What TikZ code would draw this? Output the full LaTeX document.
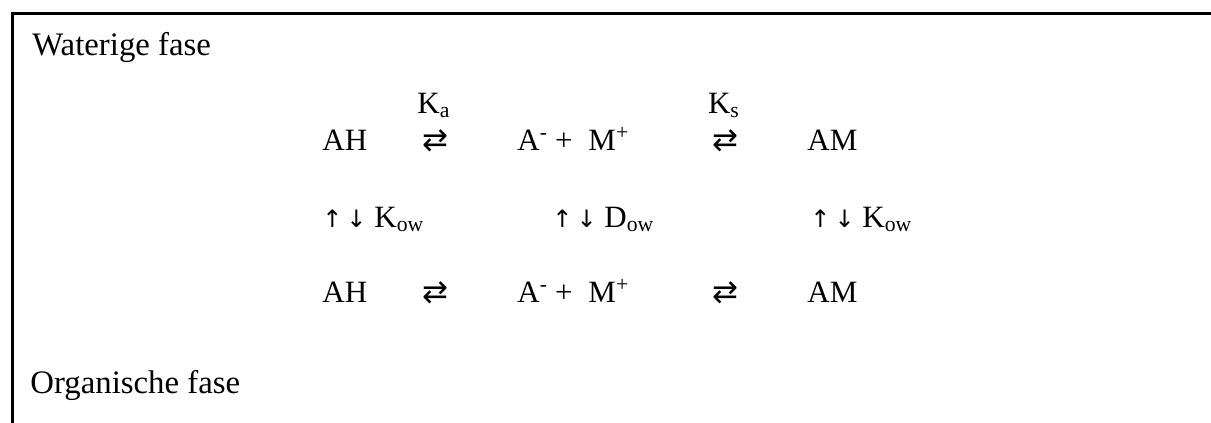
\documentclass[tikz,border=0pt]{standalone}
\usepackage{fontspec}
\setmainfont{Liberation Serif}
\newfontfamily\arrowfont{DejaVu Sans}
\usetikzlibrary{positioning}

\newcommand{\eqarrow}{{\arrowfont\char"21C4}}
\newcommand{\updown}{{\arrowfont\fontsize{12}{14}\selectfont ↑\,↓}}
\newcommand{\ionpair}{A\textsuperscript{-}\hspace{3.5pt}+\hspace{8pt}M\textsuperscript{+}}

\begin{document}
\begin{tikzpicture}[x=0.5pt,y=-0.5pt,every node/.style={inner sep=0pt,anchor=base west},phase/.style={font=\fontsize{16.4}{19}\selectfont},species/.style={font=\fontsize{15.5}{18}\selectfont},eq/.style={species,anchor=base},frame/.style={line width=1.5pt}]
\useasboundingbox (0,0) rectangle (1211,423);
\draw[frame] (12,423) -- (12,13) -- (1211,13);
\node[phase] (water) at (32,55) {Waterige fase};
\node[phase] (organic) at (30,393) {Organische fase};
% waterige fase
\node[species] (ahW) at (322,150) {AH};
\node[eq] (eqW1) at (435,150) {\eqarrow};
\node[species] (ionW) at (517,150) {\ionpair};
\node[eq] (eqW2) at (725,150) {\eqarrow};
\node[species] (amW) at (807,150) {AM};
\node[eq] (ka) at (434,113) {K\textsubscript{a}};
\node[eq] (ks) at (724,113) {K\textsubscript{s}};
% verdeling
\node[species] (kowA) at (322,227) {\updown\ K\textsubscript{ow}};
\node[species] (dow) at (552,227) {\updown\ D\textsubscript{ow}};
\node[species] (kowB) at (810,227) {\updown\ K\textsubscript{ow}};
% organische fase
\node[species] (ahO) at (322,302) {AH};
\node[eq] (eqO1) at (435,302) {\eqarrow};
\node[species] (ionO) at (517,302) {\ionpair};
\node[eq] (eqO2) at (725,302) {\eqarrow};
\node[species] (amO) at (807,302) {AM};
\end{tikzpicture}
\end{document}
